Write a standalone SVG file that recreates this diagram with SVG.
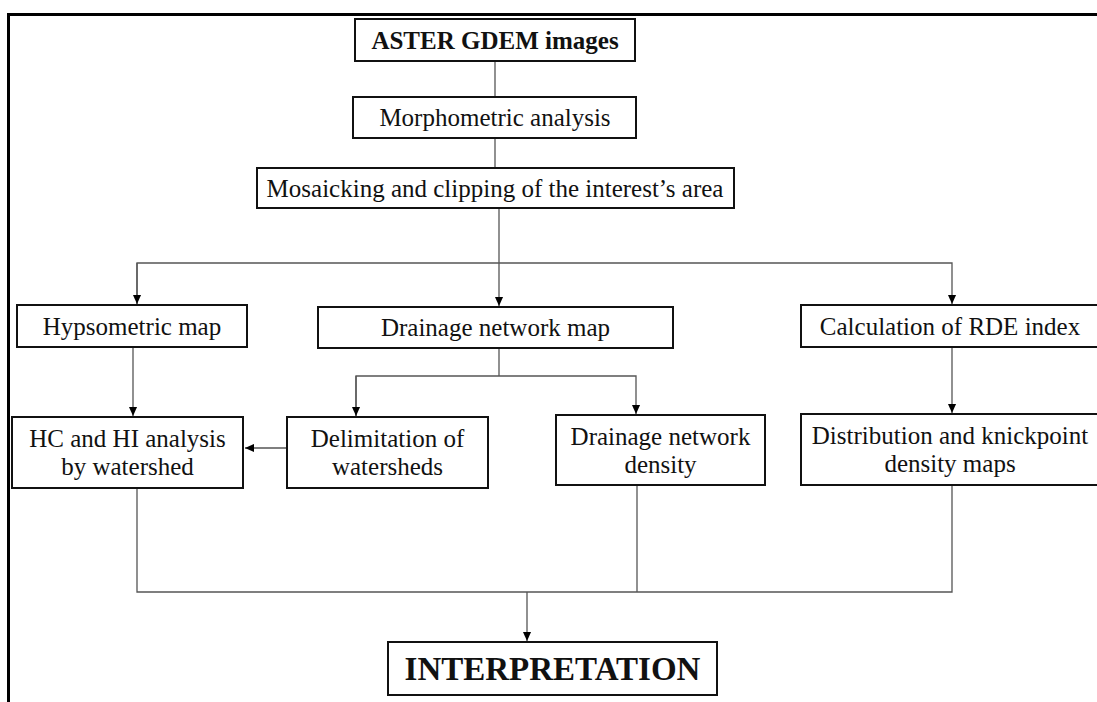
<svg xmlns="http://www.w3.org/2000/svg" width="1097" height="702" viewBox="0 0 1097 702">
<style>
.box{fill:#fff;stroke:#111;stroke-width:2}
.t{font-family:"Liberation Serif","Times New Roman",serif;font-size:25px;fill:#111;text-anchor:middle}
.b{font-weight:bold}
.c{fill:none;stroke:#555;stroke-width:1.3}
.frame{fill:none;stroke:#000;stroke-width:3}
</style>
<defs>
<marker id="ah" viewBox="0 0 10 10" refX="10" refY="5" markerWidth="10" markerHeight="9" markerUnits="userSpaceOnUse" orient="auto">
<path d="M0,0.5 L10,5 L0,9.5 z" fill="#000"/>
</marker>
</defs>
<rect width="1097" height="702" fill="#fff"/>
<path class="frame" d="M8.5,702 V14.5 H1097"/>
<g id="connectors">
<path class="c" d="M495,61 V97"/>
<path class="c" d="M495,138 V168"/>
<path class="c" d="M499,208 V306" marker-end="url(#ah)"/>
<path class="c" d="M137,305 V263 H952 V304" marker-end="url(#ah)"/>
<path class="c" d="M137,263 V304" marker-end="url(#ah)"/>
<path class="c" d="M133,347 V416" marker-end="url(#ah)"/>
<path class="c" d="M499,348 V376"/>
<path class="c" d="M356,416 V376 H636 V414" marker-end="url(#ah)"/>
<path class="c" d="M356,376 V416" marker-end="url(#ah)"/>
<path class="c" d="M287,448 H245" marker-end="url(#ah)"/>
<path class="c" d="M952,347 V413" marker-end="url(#ah)"/>
<path class="c" d="M137,488 V592 H952 V485"/>
<path class="c" d="M637,485 V592"/>
<path class="c" d="M527,592 V641" marker-end="url(#ah)"/>
</g>
<g id="aster">
<rect class="box" x="355" y="19" width="280" height="42"/>
<text class="t b" x="495" y="49">ASTER GDEM images</text>
</g>
<g id="morph">
<rect class="box" x="353" y="97" width="283" height="41"/>
<text class="t" x="495" y="126">Morphometric analysis</text>
</g>
<g id="mosaic">
<rect class="box" x="257" y="168" width="477" height="40"/>
<text class="t" x="495" y="197">Mosaicking and clipping of the interest’s area</text>
</g>
<g id="hyps">
<rect class="box" x="17" y="305" width="230" height="42"/>
<text class="t" x="132" y="335">Hypsometric map</text>
</g>
<g id="drainmap">
<rect class="box" x="318" y="307" width="355" height="41"/>
<text class="t" x="495.5" y="336">Drainage network map</text>
</g>
<g id="calc">
<rect class="box" x="801" y="305" width="300" height="42"/>
<text class="t" x="950" y="335">Calculation of RDE index</text>
</g>
<g id="hc">
<rect class="box" x="12" y="417" width="231" height="71"/>
<text class="t" x="127.5" y="447">HC and HI analysis</text>
<text class="t" x="127.5" y="475">by watershed</text>
</g>
<g id="delim">
<rect class="box" x="287" y="417" width="201" height="71"/>
<text class="t" x="387.5" y="447">Delimitation of</text>
<text class="t" x="387.5" y="475">watersheds</text>
</g>
<g id="density">
<rect class="box" x="556" y="415" width="209" height="70"/>
<text class="t" x="660.5" y="445">Drainage network</text>
<text class="t" x="660.5" y="473">density</text>
</g>
<g id="dist">
<rect class="box" x="801" y="414" width="300" height="71"/>
<text class="t" x="950" y="444">Distribution and knickpoint</text>
<text class="t" x="950" y="472">density maps</text>
</g>
<g id="interp">
<rect class="box" x="388" y="642" width="329" height="53"/>
<text class="t b" x="552.5" y="680" style="font-size:33px">INTERPRETATION</text>
</g>
</svg>
